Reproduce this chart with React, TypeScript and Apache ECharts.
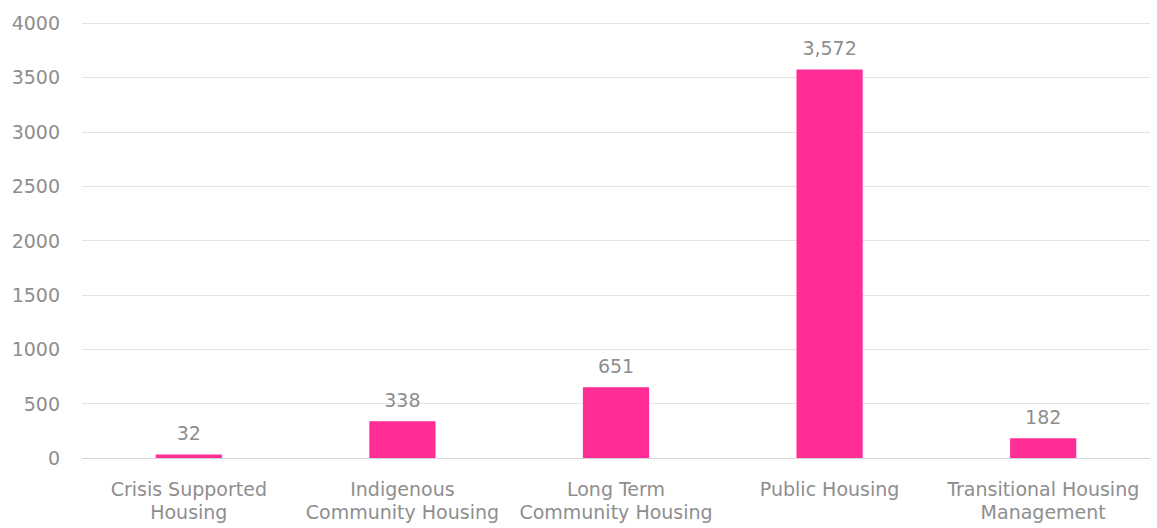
import React, { useEffect, useRef } from "react";
import * as echarts from "echarts";

const categories = [
  "Crisis Supported\nHousing",
  "Indigenous\nCommunity Housing",
  "Long Term\nCommunity Housing",
  "Public Housing",
  "Transitional Housing\nManagement",
];
const values = [32, 338, 651, 3572, 182];
const yTicks = [0, 500, 1000, 1500, 2000, 2500, 3000, 3500, 4000];

const FONT = "'DejaVu Sans', sans-serif";
const TEXT = "#8e8e8e";
const SIZE = 19;

export default function App() {
  const ref = useRef<HTMLDivElement>(null);
  useEffect(() => {
    if (!ref.current) return;
    const chart = echarts.init(ref.current, undefined, { renderer: "svg" });
    chart.setOption({
      animation: false,
      textStyle: { fontFamily: FONT },
      grid: { left: 82, right: 7, top: 23, bottom: 70, containLabel: false },
      xAxis: {
        type: "category",
        data: categories,
        axisTick: { show: false },
        axisLine: { lineStyle: { color: "#d4d4d4" } },
        axisLabel: {
          color: TEXT,
          fontSize: SIZE,
          fontFamily: FONT,
          margin: 19,
          lineHeight: 23,
          interval: 0,
        },
      },
      yAxis: {
        type: "value",
        min: yTicks[0],
        max: yTicks[yTicks.length - 1],
        interval: yTicks[1] - yTicks[0],
        axisLine: { show: false },
        axisTick: { show: false },
        splitLine: { lineStyle: { color: "#e3e3e3" } },
        axisLabel: {
          color: TEXT,
          fontSize: SIZE,
          fontFamily: FONT,
          margin: 22,
          formatter: (v: number) => String(v),
        },
      },
      series: [
        {
          type: "bar",
          data: values,
          barWidth: "31%",
          itemStyle: { color: "#ff2d95" },
          label: {
            show: true,
            position: "top",
            distance: 12,
            color: TEXT,
            fontSize: SIZE,
            fontFamily: FONT,
            formatter: (p: any) => Number(p.value).toLocaleString("en-US"),
          },
        },
      ],
    });
    return () => chart.dispose();
  }, []);
  return (
    <div
      ref={ref}
      style={{ position: "absolute", left: 0, top: 0, width: 1157, height: 528 }}
    />
  );
}
